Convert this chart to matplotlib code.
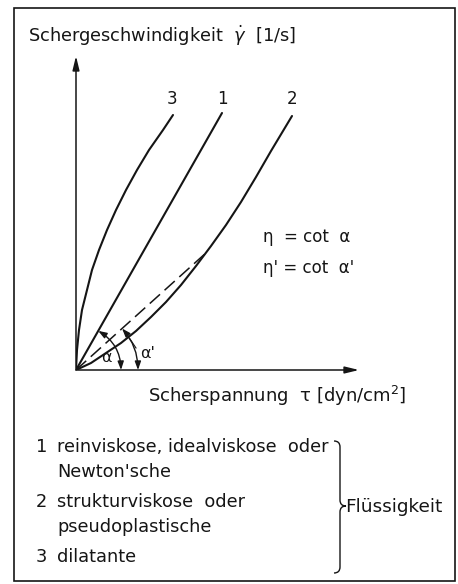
import numpy as np
import matplotlib
matplotlib.use("Agg")
import matplotlib.pyplot as plt
from matplotlib.patches import FancyArrowPatch, Rectangle
from matplotlib.path import Path
from matplotlib.patches import PathPatch

plt.rcParams["font.family"] = ["DejaVu Sans"]
plt.rcParams["mathtext.fontset"] = "dejavusans"

# =========================================
# 1. Flow curves (shear stress x, rate y)
# =========================================
# 1 = Newtonian (straight line through origin)
newton_x = [0, 146]
newton_y = [0, 257]

# 2 = pseudoplastic, bends upward
pseudo_x = [0, 15, 30, 45, 60, 75, 90, 105, 120, 135, 150, 165, 180, 195, 216]
pseudo_y = [0, 7, 17, 27, 39, 53, 68, 85, 104, 124, 145, 168, 193, 219, 254]

# 3 = dilatant, bends over
dilat_x = [0, 1, 3, 6, 11, 16, 23, 31, 40, 50, 61, 73, 87, 97]
dilat_y = [0, 20, 40, 60, 80, 100, 120, 140, 160, 180, 200, 220, 240, 255]

curve_labels = ["3", "1", "2"]
curve_label_x = [96, 146, 216]

# secant to curve 2 (apparent viscosity)
secant_x = [0, 131]
secant_y = [0, 118]

legend_nums = ["1", "", "2", "", "3"]
legend_lines = ["reinviskose, idealviskose  oder", "Newton'sche",
                "strukturviskose  oder", "pseudoplastische", "dilatante"]
legend_y = [447, 472, 502, 527, 557]

INK = "#151515"

fig = plt.figure(figsize=(4.58, 5.84), dpi=100)

# =====================================
# 2. Background layer in pixel units
# =====================================
bg = fig.add_axes([0, 0, 1, 1])
bg.set_xlim(0, 458)
bg.set_ylim(584, 0)
bg.axis("off")
bg.add_patch(Rectangle((14, 8), 441, 573, fill=False, lw=1.2, edgecolor=INK))

bg.text(28, 36, r"Schergeschwindigkeit  $\dot{\gamma}$  [1/s]", fontsize=12.8,
        color=INK, va="center", ha="left")
bg.text(148, 396, r"Scherspannung  τ [dyn/cm$^{2}$]", fontsize=13,
        color=INK, va="center", ha="left")
bg.text(263, 237, "η  = cot  α", fontsize=12, color=INK, va="center")
bg.text(263, 268, "η' = cot  α'", fontsize=12, color=INK, va="center")

for num, line, y in zip(legend_nums, legend_lines, legend_y):
    if num:
        bg.text(36, y, num, fontsize=12.8, color=INK, va="center")
    bg.text(57, y, line, fontsize=12.8, color=INK, va="center")

# curly brace
verts = [(334, 441), (340, 441), (340, 447),
         (340, 500),
         (340, 506), (346, 506),
         (340, 506), (340, 512),
         (340, 567),
         (340, 573), (334, 573)]
codes = [Path.MOVETO, Path.CURVE3, Path.CURVE3,
         Path.LINETO,
         Path.CURVE3, Path.CURVE3,
         Path.CURVE3, Path.CURVE3,
         Path.LINETO,
         Path.CURVE3, Path.CURVE3]
bg.add_patch(PathPatch(Path(verts, codes), fill=False, lw=1.0, edgecolor=INK))
bg.text(345, 507, "Flüssigkeit", fontsize=13.3, color=INK, va="center")

# =====================================
# 3. Diagram axes (1 unit = 1 pixel)
# =====================================
ax = fig.add_axes([76 / 458, 214 / 584, 290 / 458, 320 / 584])
ax.set_xlim(0, 290)
ax.set_ylim(0, 320)
ax.axis("off")
ax.patch.set_alpha(0)

axis_arrow = dict(arrowstyle="-|>,head_length=0.7,head_width=0.17", lw=1.1,
                  color=INK, mutation_scale=12, shrinkA=0, shrinkB=0)
ax.annotate("", xy=(0, 314), xytext=(0, 0), arrowprops=axis_arrow)
ax.annotate("", xy=(283, 0), xytext=(0, 0), arrowprops=axis_arrow)

for cx, cy in [(newton_x, newton_y), (pseudo_x, pseudo_y), (dilat_x, dilat_y)]:
    ax.plot(cx, cy, color=INK, lw=1.5, solid_capstyle="round",
            solid_joinstyle="round")
ax.plot(secant_x, secant_y, color=INK, lw=1.1, linestyle=(0, (9, 4)))

for lab, x in zip(curve_labels, curve_label_x):
    ax.text(x, 262, lab, fontsize=12, color=INK, ha="center", va="bottom")

# =====================================
# 4. Angle arcs alpha and alpha'
# =====================================
def angle_arc(r, theta):
    a = (r, 0)
    b = (r * np.cos(theta), r * np.sin(theta))
    arc = FancyArrowPatch(a, b, connectionstyle=f"arc3,rad={np.tan(theta / 4):.4f}",
                          arrowstyle="<|-|>,head_length=0.5,head_width=0.18",
                          mutation_scale=10, lw=1.0, color=INK,
                          shrinkA=0, shrinkB=0)
    ax.add_patch(arc)

theta_1 = np.arctan2(newton_y[1], newton_x[1])
theta_s = np.arctan2(secant_y[1], secant_x[1])
angle_arc(45, theta_1)
angle_arc(62, theta_s)

ax.text(30, 12, "α", fontsize=11.5, color=INK, ha="center", va="center")
ax.text(72, 16, "α'", fontsize=11.5, color=INK, ha="center", va="center")
ax.plot([54, 60], [31, 22], color=INK, lw=0.8)

fig.savefig("out.png", dpi=100, facecolor="white")
